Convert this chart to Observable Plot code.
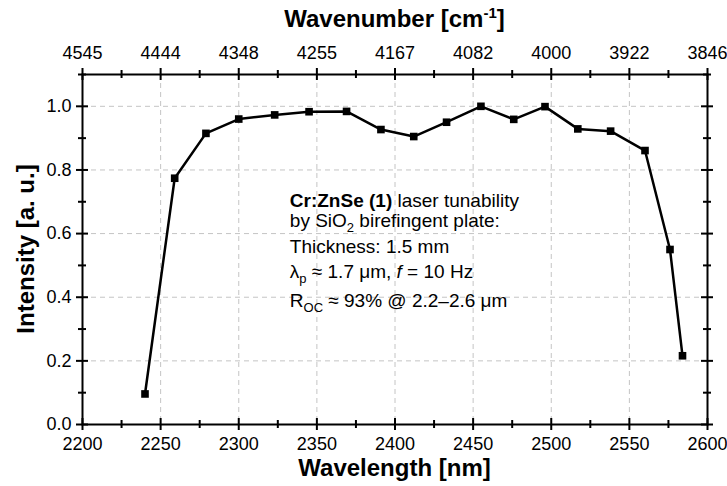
<!DOCTYPE html>
<html>
<head>
<meta charset="utf-8">
<script src="https://cdn.jsdelivr.net/npm/d3@7"></script>
<script src="https://cdn.jsdelivr.net/npm/@observablehq/plot@0.6"></script>
<style>
  html, body { margin: 0; padding: 0; background: white; }
  svg text { font-family: "Liberation Sans", Arial, sans-serif; }
</style>
</head>
<body>
<div id="chart"></div>
<script>
// Data
const wavelength = [2240, 2259, 2279, 2300, 2323, 2345, 2369, 2391, 2412, 2433, 2455, 2476, 2496, 2517, 2538, 2560, 2576, 2584];
const intensity  = [0.096, 0.774, 0.915, 0.960, 0.973, 0.983, 0.984, 0.927, 0.905, 0.950, 1.000, 0.959, 0.999, 0.929, 0.922, 0.861, 0.550, 0.216];

// Tick values / labels
const xMajor = [2200, 2250, 2300, 2350, 2400, 2450, 2500, 2550, 2600];
const xMinor = [2225, 2275, 2325, 2375, 2425, 2475, 2525, 2575];
const xGrid  = [2250, 2300, 2350, 2400, 2450, 2500, 2550];
const topTickLabels = ["4545", "4444", "4348", "4255", "4167", "4082", "4000", "3922", "3846"];
const yMajor = [0.0, 0.2, 0.4, 0.6, 0.8, 1.0];
const yMinor = [0.1, 0.3, 0.5, 0.7, 0.9, 1.1];
const yGrid  = [0.2, 0.4, 0.6, 0.8, 1.0];

const data = wavelength.map((w, i) => ({w, v: intensity[i]}));

const W = 727, H = 486;
const mL = 82, mR = 20, mT = 74, mB = 62;
const pw = W - mL - mR, ph = H - mT - mB;
const major = 6, minor = 4;

const plot = Plot.plot({
  width: W, height: H,
  marginLeft: mL, marginRight: mR, marginTop: mT, marginBottom: mB,
  style: {fontFamily: "'Liberation Sans', Arial, sans-serif", fontSize: "18px", color: "black", background: "white"},
  x: {domain: [2200, 2600]},
  y: {domain: [0, 1.1]},
  marks: [
    Plot.gridX(xGrid, {stroke: "#c4c4c4", strokeOpacity: 1, strokeWidth: 1, strokeDasharray: "5,4"}),
    Plot.gridY(yGrid, {stroke: "#c4c4c4", strokeOpacity: 1, strokeWidth: 1, strokeDasharray: "5,4"}),
    // crossing ticks
    Plot.ruleX(xMajor, {stroke: "black", strokeWidth: 2, insetTop: ph - major, insetBottom: -major}),
    Plot.ruleX(xMajor, {stroke: "black", strokeWidth: 2, insetTop: -major, insetBottom: ph - major}),
    Plot.ruleX(xMinor, {stroke: "black", strokeWidth: 2, insetTop: ph - minor, insetBottom: -minor}),
    Plot.ruleX(xMinor, {stroke: "black", strokeWidth: 2, insetTop: -minor, insetBottom: ph - minor}),
    Plot.ruleY(yMajor, {stroke: "black", strokeWidth: 2, insetLeft: -major, insetRight: pw - major}),
    Plot.ruleY(yMajor, {stroke: "black", strokeWidth: 2, insetLeft: pw - major, insetRight: -major}),
    Plot.ruleY(yMinor, {stroke: "black", strokeWidth: 2, insetLeft: -minor, insetRight: pw - minor}),
    Plot.ruleY(yMinor, {stroke: "black", strokeWidth: 2, insetLeft: pw - minor, insetRight: -minor}),
    Plot.frame({stroke: "black", strokeWidth: 2}),
    Plot.axisX({anchor: "bottom", ticks: xMajor, tickSize: 0, tickPadding: 13, tickFormat: d => String(d), label: null, fontSize: 18}),
    Plot.axisX({anchor: "top", ticks: xMajor, tickSize: 0, tickPadding: 16, tickFormat: d => topTickLabels[xMajor.indexOf(d)], label: null, fontSize: 18}),
    Plot.axisY({anchor: "left", ticks: yMajor, tickSize: 0, tickPadding: 11, tickFormat: d3.format(".1f"), label: null, fontSize: 18}),
    Plot.line(data, {x: "w", y: "v", stroke: "black", strokeWidth: 2.5}),
    Plot.dot(data, {x: "w", y: "v", symbol: "square", fill: "black", stroke: "none", r: 4.3})
  ]
});

document.getElementById("chart").appendChild(plot);

const svg = d3.select(plot);
const xs = plot.scale("x"), ys = plot.scale("y");
const cx = (mL + W - mR) / 2;

// Axis titles
svg.append("text").attr("x", cx).attr("y", 476).attr("text-anchor", "middle")
  .attr("font-size", 24).attr("font-weight", "bold").attr("fill", "black").text("Wavelength [nm]");

const tt = svg.append("text").attr("x", cx).attr("y", 27).attr("text-anchor", "middle")
  .attr("font-size", 24).attr("font-weight", "bold").attr("fill", "black");
tt.append("tspan").text("Wavenumber [cm");
tt.append("tspan").attr("font-size", 15).attr("dy", -9).text("-1");
tt.append("tspan").attr("dy", 9).text("]");

svg.append("text").attr("transform", `translate(34,${mT + ph / 2}) rotate(-90)`).attr("text-anchor", "middle")
  .attr("font-size", 24).attr("font-weight", "bold").attr("fill", "black").text("Intensity [a. u.]");

// Annotation (anchored in data coordinates)
const noteX = 2333;
const noteY = [0.683, 0.620, 0.537, 0.459, 0.369];
const g = svg.append("g").attr("font-size", 19).attr("fill", "black").attr("text-anchor", "start");
const line = i => g.append("text").attr("text-anchor", "start").attr("x", xs.apply(noteX)).attr("y", ys.apply(noteY[i]));

let t = line(0);
t.append("tspan").attr("font-weight", "bold").text("Cr:ZnSe (1)");
t.append("tspan").text(" laser tunability");

t = line(1);
t.append("tspan").text("by SiO");
t.append("tspan").attr("font-size", 13).attr("dy", 5).text("2");
t.append("tspan").attr("dy", -5).text(" birefingent plate:");

t = line(2);
t.append("tspan").text("Thickness: 1.5 mm");

t = line(3);
t.append("tspan").text("λ");
t.append("tspan").attr("font-size", 13).attr("dy", 5).text("p");
t.append("tspan").attr("dy", -5).text(" ≈ 1.7 μm, ");
t.append("tspan").attr("font-style", "italic").text("f");
t.append("tspan").text(" = 10 Hz");

t = line(4);
t.append("tspan").text("R");
t.append("tspan").attr("font-size", 13).attr("dy", 5).text("OC");
t.append("tspan").attr("dy", -5).text(" ≈ 93% @ 2.2–2.6 μm");
</script>
</body>
</html>
